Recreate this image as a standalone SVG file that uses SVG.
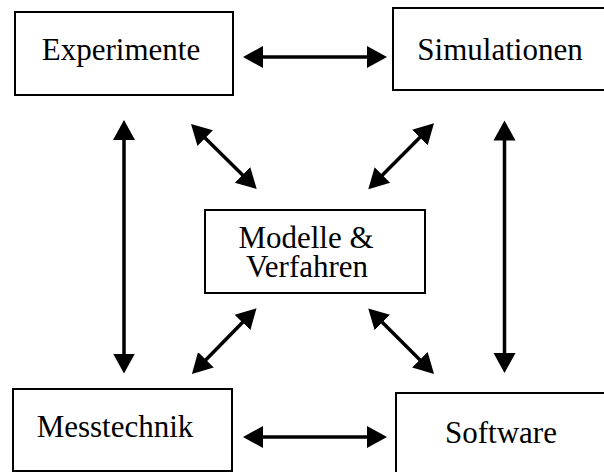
<svg xmlns="http://www.w3.org/2000/svg" width="604" height="472" viewBox="0 0 604 472">
<style>
.box{fill:#fff;stroke:#000;stroke-width:2}
.lbl{font-family:"Liberation Serif","Times New Roman",serif;font-size:31px;fill:#000;text-anchor:middle}
.arr{stroke:#000;stroke-width:3.5;fill:none;marker-start:url(#ah);marker-end:url(#ah)}
</style>
<defs>
<marker id="ah" markerUnits="userSpaceOnUse" viewBox="0 -12 22 24" markerWidth="22" markerHeight="24" refX="2" refY="0" orient="auto-start-reverse">
<path d="M0,-11 L20,0 L0,11 z" fill="#000"/>
</marker>
</defs>
<rect width="604" height="472" fill="#fff"/>
<g id="experimente"><rect class="box" x="15" y="12" width="218" height="83"/><text class="lbl" x="121" y="60">Experimente</text></g>
<g id="simulationen"><rect class="box" x="393" y="8" width="215" height="82"/><text class="lbl" x="500" y="60">Simulationen</text></g>
<g id="modelle"><rect class="box" x="205" y="210" width="220" height="83"/><text class="lbl" x="306" y="248">Modelle &amp;</text><text class="lbl" x="307" y="277">Verfahren</text></g>
<g id="messtechnik"><rect class="box" x="13" y="389" width="219" height="82"/><text class="lbl" x="115" y="437">Messtechnik</text></g>
<g id="software"><rect class="box" x="396" y="393" width="212" height="85"/><text class="lbl" x="501" y="443">Software</text></g>
<g id="connectors">
<line class="arr" x1="261" y1="57" x2="369" y2="57"/>
<line class="arr" x1="261" y1="437" x2="369" y2="437"/>
<line class="arr" x1="124" y1="138" x2="124" y2="355.5"/>
<line class="arr" x1="504.5" y1="138.5" x2="504.5" y2="355"/>
<line class="arr" x1="203.8" y1="136.7" x2="243.9" y2="176.3"/>
<line class="arr" x1="421.3" y1="136.1" x2="381" y2="176.5"/>
<line class="arr" x1="243.9" y1="321.1" x2="204.5" y2="361.2"/>
<line class="arr" x1="381" y1="321.1" x2="421.3" y2="361.2"/>
</g>
</svg>
